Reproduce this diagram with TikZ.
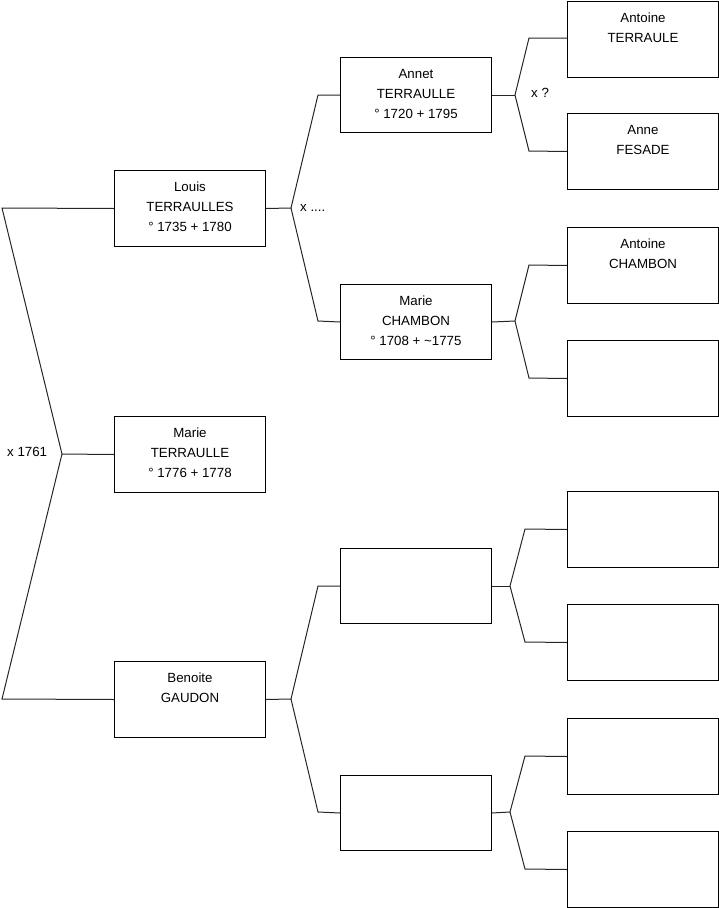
\documentclass[tikz,border=0pt]{standalone}
\usepackage{fontspec}
\setmainfont{Liberation Sans}
\begin{document}
\begin{tikzpicture}[x=1pt,y=-1pt,
  pbox/.style={draw=black,line width=1pt,fill=white,anchor=north west,inner sep=0pt,minimum width=151pt,minimum height=76pt},
  pboxs/.style={pbox,minimum height=75pt},
  ptxt/.style={anchor=north,inner sep=0pt,align=center,font=\fontsize{13.3}{20}\selectfont},
  plab/.style={anchor=west,inner sep=0pt,font=\fontsize{13.3}{20}\selectfont},
  link/.style={draw=black!85,line width=1pt,line join=miter}]
\useasboundingbox (0,0) rectangle (719,908);

% generation 1
\node[pbox] (louis) at (114,170) {};
\node[pbox] (marie) at (114,416) {};
\node[pbox] (benoite) at (114,661) {};
% generation 2
\node[pboxs] (annet) at (340,57) {};
\node[pboxs] (mchambon) at (340,284) {};
\node[pboxs] (b2a) at (340,548) {};
\node[pboxs] (b2b) at (340,775) {};
% generation 3
\node[pbox] (aterraule) at (567,0.5) {};
\node[pbox] (afesade) at (567,113) {};
\node[pbox] (achambon) at (567,227) {};
\node[pbox] (b3a) at (567,340) {};
\node[pbox] (b3b) at (567,491) {};
\node[pbox] (b3c) at (567,604) {};
\node[pbox] (b3d) at (567,718) {};
\node[pbox] (b3e) at (567,831) {};

% texts
\node[ptxt] (louis-t) at ([yshift=-12pt]louis.north) {Louis\\TERRAULLES\\° 1735 + 1780};
\node[ptxt] (marie-t) at ([yshift=-12pt]marie.north) {Marie\\TERRAULLE\\° 1776 + 1778};
\node[ptxt] (benoite-t) at ([yshift=-12pt]benoite.north) {Benoite\\GAUDON};
\node[ptxt] (annet-t) at ([yshift=-12pt]annet.north) {Annet\\TERRAULLE\\° 1720 + 1795};
\node[ptxt] (mchambon-t) at ([yshift=-12pt]mchambon.north) {Marie\\CHAMBON\\° 1708 + \textasciitilde 1775};
\node[ptxt] (aterraule-t) at ([yshift=-12pt]aterraule.north) {Antoine\\TERRAULE};
\node[ptxt] (afesade-t) at ([yshift=-12pt]afesade.north) {Anne\\FESADE};
\node[ptxt] (achambon-t) at ([yshift=-12pt]achambon.north) {Antoine\\CHAMBON};

% root bracket
\coordinate (r1) at (2,208);
\coordinate (r0) at (62,454);
\coordinate (r2) at (2,699);
\draw[link] (louis.west) -- (r1) -- (r0) -- (r2) -- (benoite.west);
\draw[link] (r0) -- (marie.west);
\node[plab] (lab1) at (7,452) {x 1761};

% Louis parents
\coordinate (j1) at (291,208);
\coordinate (j1u) at (318,95);
\coordinate (j1d) at (318,321);
\draw[link] (louis.east) -- (j1);
\draw[link] (annet.west) -- (j1u) -- (j1) -- (j1d) -- (mchambon.west);
\node[plab] (lab2) at (300,208) {x ....};

% Benoite parents
\coordinate (j2) at (291,699);
\coordinate (j2u) at (318,586);
\coordinate (j2d) at (318,812);
\draw[link] (benoite.east) -- (j2);
\draw[link] (b2a.west) -- (j2u) -- (j2) -- (j2d) -- (b2b.west);

% Annet parents
\coordinate (k1) at (515,95);
\coordinate (k1u) at (529,38);
\coordinate (k1d) at (529,151);
\draw[link] (annet.east) -- (k1);
\draw[link] (aterraule.west |- k1u) -- (k1u) -- (k1) -- (k1d) -- (afesade.west);
\node[plab] (lab3) at (531,93) {x ?};

% Marie Chambon parents
\coordinate (k2) at (515,321);
\coordinate (k2u) at (529,265);
\coordinate (k2d) at (529,378);
\draw[link] (mchambon.east) -- (k2);
\draw[link] (achambon.west) -- (k2u) -- (k2) -- (k2d) -- (b3a.west);

% blank 1 parents
\coordinate (k3) at (510,586);
\coordinate (k3u) at (525,529);
\coordinate (k3d) at (525,642);
\draw[link] (b2a.east) -- (k3);
\draw[link] (b3b.west) -- (k3u) -- (k3) -- (k3d) -- (b3c.west);

% blank 2 parents
\coordinate (k4) at (510,812);
\coordinate (k4u) at (525,756);
\coordinate (k4d) at (525,869);
\draw[link] (b2b.east) -- (k4);
\draw[link] (b3d.west) -- (k4u) -- (k4) -- (k4d) -- (b3e.west);
\end{tikzpicture}
\end{document}
